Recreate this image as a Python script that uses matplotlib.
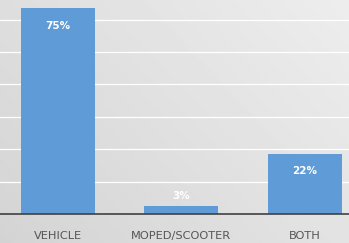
import numpy as np
import matplotlib
matplotlib.use("Agg")
import matplotlib.pyplot as plt

categorias = ["VEHICLE", "MOPED/SCOOTER", "BOTH"]
valores = [75, 3, 22]
etiquetas = ["75%", "3%", "22%"]

fig = plt.figure(figsize=(3.49, 2.43), dpi=100)

# fondo degradado (mas oscuro abajo a la izquierda)
bg = fig.add_axes([0, 0, 1, 1], zorder=0)
xx, yy = np.meshgrid(np.linspace(0, 1, 200), np.linspace(0, 1, 200))
grad = 0.83 + 0.06 * xx + 0.04 * yy
bg.imshow(grad, cmap="gray", vmin=0, vmax=1, origin="lower",
          extent=[0, 1, 0, 1], aspect="auto")
bg.axis("off")

ax = fig.add_axes([0, 29 / 243, 1, 214 / 243], zorder=1)
ax.patch.set_alpha(0)
x = np.arange(len(categorias))
bars = ax.bar(x, valores, width=0.6, color="#5f9bd6", zorder=2)

ax.set_xlim(-0.47, 2.36)
ax.set_ylim(0, 77.9)
ax.set_yticks(np.arange(11.8, 77, 11.8))
ax.grid(axis="y", color="white", linewidth=0.9, zorder=1)
ax.tick_params(axis="y", left=False, labelleft=False)
ax.tick_params(axis="x", bottom=False, pad=9, labelsize=8.2, colors="#555555")
ax.set_xticks(x)
ax.set_xticklabels(categorias)
for s in ["top", "right", "left"]:
    ax.spines[s].set_visible(False)
ax.spines["bottom"].set_color("#404040")
ax.spines["bottom"].set_linewidth(1.2)

for b, v, t in zip(bars, valores, etiquetas):
    if v > 10:
        y = v - 6.5
    else:
        y = v + 3.6
    ax.text(b.get_x() + b.get_width() / 2, y, t, ha="center", va="center",
            color="white", fontsize=7.5, fontweight="bold", zorder=3)

fig.savefig("out.png", dpi=100)
